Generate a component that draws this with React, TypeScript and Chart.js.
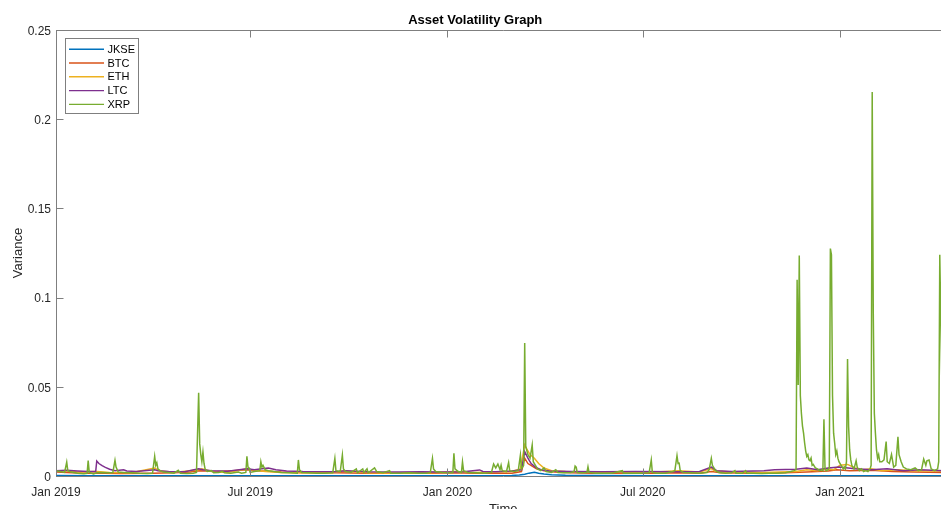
import React, { useEffect, useRef } from 'react';
import { Chart, registerables } from 'chart.js';

Chart.register(...registerables);

const TITLE = 'Asset Volatility Graph';
const X_TITLE = 'Time';
const Y_TITLE = 'Variance';

// x values are days since 1 Jan 2019
const xTickDays = [0, 181, 365, 547, 731];
const xTickLabels = ['Jan 2019', 'Jul 2019', 'Jan 2020', 'Jul 2020', 'Jan 2021'];
const yTickValues = [0, 0.05, 0.1, 0.15, 0.2, 0.25];
const yTickLabels = ['0', '0.05', '0.1', '0.15', '0.2', '0.25'];

const seriesNames = ['JKSE', 'BTC', 'ETH', 'LTC', 'XRP'];
const seriesColors = ['#0072BD', '#D95319', '#EDB120', '#7E2F8E', '#77AC30'];

// [day, variance]
const jkse: number[][] = [
  [0, 0.0003], [30, 0.0002], [90, 0.0002], [150, 0.0002], [210, 0.0002], [270, 0.0002], [330, 0.0002],
  [390, 0.0002], [425, 0.0003], [432, 0.0006], [437, 0.001], [441, 0.0016], [446, 0.0021], [450, 0.0016],
  [455, 0.0011], [462, 0.0007], [475, 0.0004], [500, 0.0003], [560, 0.0002], [620, 0.0002], [680, 0.0002],
  [740, 0.0002], [800, 0.0002], [828, 0.0002],
];

const btc: number[][] = [
  [0, 0.0022], [15, 0.0018], [30, 0.0016], [45, 0.0015], [60, 0.0014], [90, 0.0016], [110, 0.0018],
  [125, 0.0022], [133, 0.003], [140, 0.0028], [150, 0.0025], [165, 0.003], [178, 0.0035], [185, 0.003],
  [195, 0.0028], [210, 0.0022], [230, 0.0018], [260, 0.0018], [290, 0.0016], [320, 0.0015], [350, 0.0015],
  [370, 0.0018], [390, 0.0016], [410, 0.0015], [425, 0.0016], [434, 0.0025], [437, 0.01], [440, 0.007],
  [444, 0.0055], [448, 0.004], [455, 0.003], [465, 0.0022], [480, 0.0018], [500, 0.0016], [530, 0.0015],
  [555, 0.0016], [580, 0.0018], [600, 0.0016], [611, 0.0025], [620, 0.0018], [650, 0.0015], [680, 0.0018],
  [700, 0.0022], [720, 0.0028], [728, 0.0035], [740, 0.003], [760, 0.0032], [780, 0.0025], [800, 0.0022],
  [828, 0.002],
];

const eth: number[][] = [
  [0, 0.0028], [10, 0.003], [20, 0.0022], [38, 0.0025], [50, 0.002], [70, 0.0018], [92, 0.0045], [96, 0.003],
  [110, 0.002], [133, 0.0035], [136, 0.004], [145, 0.0025], [160, 0.002], [178, 0.004], [182, 0.0035],
  [195, 0.0025], [210, 0.002], [230, 0.0018], [260, 0.002], [268, 0.003], [290, 0.0018], [320, 0.0016],
  [350, 0.0018], [371, 0.0025], [390, 0.002], [410, 0.0022], [425, 0.0025], [433, 0.004], [437, 0.0174],
  [439, 0.015], [442, 0.012], [446, 0.01], [450, 0.007], [455, 0.0045], [462, 0.003], [475, 0.0025],
  [500, 0.0022], [530, 0.002], [560, 0.0022], [580, 0.003], [600, 0.0022], [611, 0.0042], [614, 0.003],
  [630, 0.0022], [660, 0.002], [690, 0.0025], [700, 0.0035], [710, 0.003], [718, 0.004], [725, 0.0035],
  [731, 0.006], [738, 0.0065], [745, 0.0045], [752, 0.0035], [760, 0.004], [770, 0.003], [785, 0.0035],
  [800, 0.003], [828, 0.0028],
];

const ltc: number[][] = [
  [0, 0.003], [10, 0.0032], [20, 0.0028], [30, 0.0025], [37, 0.0025], [38, 0.0084], [40, 0.007], [43, 0.0058],
  [46, 0.0048], [50, 0.0038], [55, 0.003], [63, 0.0035], [66, 0.0028], [75, 0.0025], [92, 0.0035], [95, 0.003],
  [105, 0.0025], [120, 0.0024], [133, 0.004], [137, 0.0035], [145, 0.003], [160, 0.0026], [178, 0.004],
  [185, 0.0035], [192, 0.004], [198, 0.0045], [205, 0.0035], [215, 0.0028], [230, 0.0025], [260, 0.0024],
  [270, 0.003], [290, 0.0024], [320, 0.0022], [340, 0.0024], [360, 0.0022], [380, 0.0024], [395, 0.0034],
  [398, 0.0025], [410, 0.0024], [425, 0.0028], [434, 0.0035], [437, 0.0137], [440, 0.01], [443, 0.007],
  [447, 0.005], [452, 0.0035], [460, 0.0028], [480, 0.0025], [510, 0.0024], [540, 0.0025], [580, 0.0024],
  [600, 0.0025], [611, 0.005], [616, 0.003], [630, 0.0025], [660, 0.003], [670, 0.0035], [690, 0.0038],
  [700, 0.0045], [710, 0.0035], [720, 0.0045], [730, 0.005], [745, 0.004], [760, 0.0035], [775, 0.004],
  [790, 0.003], [805, 0.0035], [828, 0.003],
];

const xrp: number[][] = [
  [0, 0.003], [4, 0.0025], [8, 0.002], [10, 0.0078], [11, 0.003], [14, 0.0022], [20, 0.0015], [26, 0.0012],
  [29, 0.0015], [30, 0.0086], [31, 0.002], [35, 0.0012], [38, 0.0018], [42, 0.002], [48, 0.0018], [53, 0.002],
  [55, 0.0088], [56, 0.005], [58, 0.0022], [63, 0.002], [70, 0.0018], [78, 0.0015], [85, 0.0014], [90, 0.0015],
  [92, 0.011], [93, 0.006], [94, 0.0075], [95, 0.004], [97, 0.003], [100, 0.0022], [105, 0.002], [110, 0.0016],
  [114, 0.0032], [116, 0.0016], [122, 0.0014], [128, 0.0016], [131, 0.002], [133, 0.0466], [134, 0.018],
  [135, 0.012], [136, 0.008], [137, 0.0135], [138, 0.007], [139, 0.004], [141, 0.0025], [145, 0.003],
  [147, 0.0018], [152, 0.002], [155, 0.0026], [157, 0.0018], [163, 0.0016], [170, 0.0022], [173, 0.0015],
  [177, 0.002], [178, 0.011], [179, 0.005], [180, 0.0045], [181, 0.002], [185, 0.0025], [190, 0.003],
  [191, 0.008], [192, 0.005], [193, 0.006], [195, 0.0035], [198, 0.003], [203, 0.0025], [210, 0.002],
  [218, 0.0018], [225, 0.0016], [226, 0.009], [227, 0.0035], [229, 0.002], [235, 0.0018], [243, 0.0015],
  [250, 0.0016], [258, 0.0018], [260, 0.0099], [261, 0.003], [265, 0.0025], [267, 0.0118], [268, 0.004],
  [270, 0.0025], [275, 0.002], [280, 0.004], [281, 0.0018], [286, 0.004], [287, 0.002], [290, 0.004],
  [291, 0.0018], [297, 0.0045], [299, 0.0025], [305, 0.0018], [311, 0.003], [312, 0.0016], [320, 0.0015],
  [330, 0.0018], [338, 0.0016], [345, 0.0015], [349, 0.002], [351, 0.0099], [352, 0.004], [354, 0.0025],
  [360, 0.002], [366, 0.0018], [370, 0.002], [371, 0.0127], [372, 0.004], [375, 0.0025], [378, 0.002],
  [379, 0.008], [380, 0.003], [384, 0.002], [392, 0.0018], [400, 0.0016], [406, 0.002], [408, 0.0067],
  [410, 0.0045], [412, 0.0067], [414, 0.0035], [415, 0.006], [416, 0.003], [420, 0.0025], [422, 0.0075],
  [423, 0.003], [427, 0.0025], [431, 0.003], [433, 0.0118], [434, 0.004], [436, 0.006], [437, 0.0745],
  [438, 0.0165], [440, 0.012], [442, 0.01], [444, 0.0174], [445, 0.008], [447, 0.006], [449, 0.004],
  [452, 0.003], [455, 0.0045], [457, 0.0025], [462, 0.002], [466, 0.0035], [468, 0.002], [474, 0.0018],
  [480, 0.002], [483, 0.0025], [484, 0.0056], [485, 0.005], [486, 0.002], [490, 0.0018], [495, 0.002],
  [496, 0.0052], [497, 0.002], [503, 0.0016], [510, 0.0015], [518, 0.0016], [528, 0.003], [529, 0.0015],
  [535, 0.0016], [545, 0.0015], [553, 0.0018], [555, 0.009], [556, 0.002], [560, 0.0016], [568, 0.0015],
  [575, 0.0025], [577, 0.003], [579, 0.0114], [580, 0.007], [581, 0.0072], [582, 0.003], [585, 0.002],
  [592, 0.0018], [600, 0.0016], [607, 0.002], [609, 0.0035], [611, 0.0099], [612, 0.006], [613, 0.005],
  [615, 0.003], [618, 0.002], [624, 0.0016], [630, 0.0018], [633, 0.003], [634, 0.0016], [640, 0.0015],
  [643, 0.003], [644, 0.0016], [650, 0.0015], [658, 0.0014], [665, 0.0016], [672, 0.0015], [680, 0.0018],
  [685, 0.0025], [688, 0.003], [690, 0.0035], [691, 0.11], [692, 0.051], [693, 0.1236], [694, 0.045],
  [695, 0.035], [696, 0.028], [697, 0.024], [698, 0.0185], [699, 0.014], [700, 0.011], [701, 0.012],
  [702, 0.009], [703, 0.0085], [704, 0.01], [705, 0.006], [706, 0.0065], [708, 0.0045], [710, 0.004],
  [712, 0.003], [714, 0.0035], [715, 0.003], [716, 0.0318], [717, 0.0045], [718, 0.003], [720, 0.0035],
  [721, 0.005], [722, 0.1275], [723, 0.124], [724, 0.045], [725, 0.024], [726, 0.0185], [727, 0.012],
  [728, 0.014], [729, 0.01], [730, 0.008], [732, 0.006], [734, 0.004], [735, 0.005], [736, 0.004],
  [737, 0.008], [738, 0.0656], [739, 0.0277], [740, 0.0146], [741, 0.009], [742, 0.006], [744, 0.004],
  [746, 0.0085], [747, 0.005], [749, 0.003], [751, 0.004], [753, 0.0025], [755, 0.003], [757, 0.0025],
  [759, 0.004], [760, 0.006], [761, 0.2153], [762, 0.0915], [763, 0.035], [764, 0.024], [765, 0.0146],
  [766, 0.01], [767, 0.012], [768, 0.008], [770, 0.008], [772, 0.009], [774, 0.0193], [775, 0.008],
  [777, 0.007], [779, 0.012], [781, 0.005], [783, 0.006], [785, 0.022], [786, 0.012], [788, 0.008],
  [790, 0.005], [793, 0.004], [797, 0.0035], [801, 0.0045], [804, 0.003], [807, 0.0035], [809, 0.0095],
  [811, 0.006], [812, 0.0085], [814, 0.009], [816, 0.004], [819, 0.003], [822, 0.004], [823, 0.008],
  [824, 0.124], [826, 0.05], [828, 0.01],
];

const seriesData = [jkse, btc, eth, ltc, xrp];

const AXIS_COLOR = '#7f7f7f';
const TEXT_COLOR = '#262626';
const FONT = '"Liberation Sans", Arial, Helvetica, sans-serif';
const TICK_LEN = 7;

const boxPlugin = {
  id: 'matlabBox',
  afterDatasetsDraw(chart: any) {
    const { ctx, chartArea: a, scales } = chart;
    const x = scales.x;
    const y = scales.y;
    ctx.save();
    ctx.strokeStyle = AXIS_COLOR;
    ctx.lineWidth = 1;
    ctx.beginPath();
    const top = Math.round(a.top) + 0.5;
    const right = Math.round(a.right) - 0.5;
    const bottom = Math.round(a.bottom) - 0.5;
    const left = Math.round(a.left) + 0.5;
    ctx.moveTo(a.left, top);
    ctx.lineTo(a.right, top);
    ctx.moveTo(right, a.top);
    ctx.lineTo(right, a.bottom);
    xTickDays.forEach((d) => {
      const px = Math.round(x.getPixelForValue(d)) + 0.5;
      ctx.moveTo(px, bottom);
      ctx.lineTo(px, bottom - TICK_LEN);
      ctx.moveTo(px, top);
      ctx.lineTo(px, top + TICK_LEN);
    });
    yTickValues.forEach((v) => {
      const py = Math.round(y.getPixelForValue(v)) + 0.5;
      ctx.moveTo(left, py);
      ctx.lineTo(left + TICK_LEN, py);
      ctx.moveTo(right, py);
      ctx.lineTo(right - TICK_LEN, py);
    });
    ctx.stroke();
    ctx.restore();
  },
};

const legendPlugin = {
  id: 'matlabLegend',
  afterDraw(chart: any) {
    const { ctx, chartArea: a } = chart;
    const bx = Math.round(a.left + 9) + 0.5;
    const by = Math.round(a.top + 8) + 0.5;
    const bw = 73;
    const bh = 75;
    ctx.save();
    ctx.fillStyle = '#ffffff';
    ctx.fillRect(bx, by, bw, bh);
    ctx.strokeStyle = AXIS_COLOR;
    ctx.lineWidth = 1;
    ctx.strokeRect(bx, by, bw, bh);
    ctx.font = `11px ${FONT}`;
    ctx.textBaseline = 'middle';
    ctx.textAlign = 'left';
    chart.data.datasets.forEach((ds: any, i: number) => {
      const cy = by + 10.7 + i * 13.8;
      ctx.strokeStyle = ds.borderColor;
      ctx.lineWidth = 1.4;
      ctx.beginPath();
      ctx.moveTo(bx + 3.5, cy);
      ctx.lineTo(bx + 38.5, cy);
      ctx.stroke();
      ctx.fillStyle = '#000000';
      ctx.fillText(ds.label, bx + 42, cy + 0.5);
    });
    ctx.restore();
  },
};

export default function App() {
  const ref = useRef<HTMLCanvasElement>(null);
  useEffect(() => {
    const canvas = ref.current;
    if (!canvas) return;
    const datasets = seriesNames.map((name, i) => ({
      label: name,
      data: seriesData[i].map((p) => ({ x: p[0], y: p[1] })),
      borderColor: seriesColors[i],
      backgroundColor: seriesColors[i],
      borderWidth: 1.5,
      pointRadius: 0,
      tension: 0,
      fill: false,
      order: seriesNames.length - i,
    }));
    const chart = new Chart(canvas, {
      type: 'line',
      data: { datasets },
      options: {
        animation: false,
        responsive: false,
        devicePixelRatio: 1,
        layout: { padding: { left: 0, right: 9.5, top: 0, bottom: 0 } },
        plugins: {
          legend: { display: false },
          tooltip: { enabled: false },
          title: {
            display: true,
            text: TITLE,
            color: '#000000',
            font: { family: FONT, size: 13, weight: 'bold', lineHeight: 1.2 },
            padding: { top: 13, bottom: 1.4 },
          },
        },
        scales: {
          x: {
            type: 'linear',
            min: 0,
            max: 834,
            afterBuildTicks: (s: any) => {
              s.ticks = xTickDays.map((v) => ({ value: v }));
            },
            afterFit: (s: any) => {
              s.height = 44;
            },
            ticks: {
              autoSkip: false,
              maxRotation: 0,
              padding: 9,
              color: TEXT_COLOR,
              font: { family: FONT, size: 12 },
              callback: (v: any) => {
                const idx = xTickDays.indexOf(Number(v));
                return idx >= 0 ? xTickLabels[idx] : '';
              },
            },
            grid: { display: true, drawOnChartArea: false, drawTicks: false },
            border: { display: true, color: AXIS_COLOR, width: 1 },
            title: {
              display: true,
              text: X_TITLE,
              color: TEXT_COLOR,
              font: { family: FONT, size: 13 },
              padding: { top: 0, bottom: 3 },
            },
          },
          y: {
            type: 'linear',
            min: 0,
            max: 0.25,
            afterBuildTicks: (s: any) => {
              s.ticks = yTickValues.map((v) => ({ value: v }));
            },
            afterFit: (s: any) => {
              s.width = 56;
            },
            ticks: {
              padding: 5,
              labelOffset: 1.5,
              color: TEXT_COLOR,
              font: { family: FONT, size: 12 },
              callback: (v: any) => {
                const idx = yTickValues.findIndex((t) => Math.abs(t - Number(v)) < 1e-9);
                return idx >= 0 ? yTickLabels[idx] : '';
              },
            },
            grid: { display: true, drawOnChartArea: false, drawTicks: false },
            border: { display: true, color: AXIS_COLOR, width: 1 },
            title: {
              display: true,
              text: Y_TITLE,
              color: TEXT_COLOR,
              font: { family: FONT, size: 13 },
              padding: { top: 11, bottom: 0 },
            },
          },
        },
      },
      plugins: [boxPlugin, legendPlugin],
    } as any);
    return () => chart.destroy();
  }, []);

  return (
    <div
      style={{
        position: 'fixed',
        left: 0,
        top: 0,
        width: 941,
        height: 509,
        overflow: 'hidden',
        background: '#ffffff',
      }}
    >
      <canvas ref={ref} width={960} height={520} style={{ display: 'block', width: 960, height: 520 }} />
    </div>
  );
}
